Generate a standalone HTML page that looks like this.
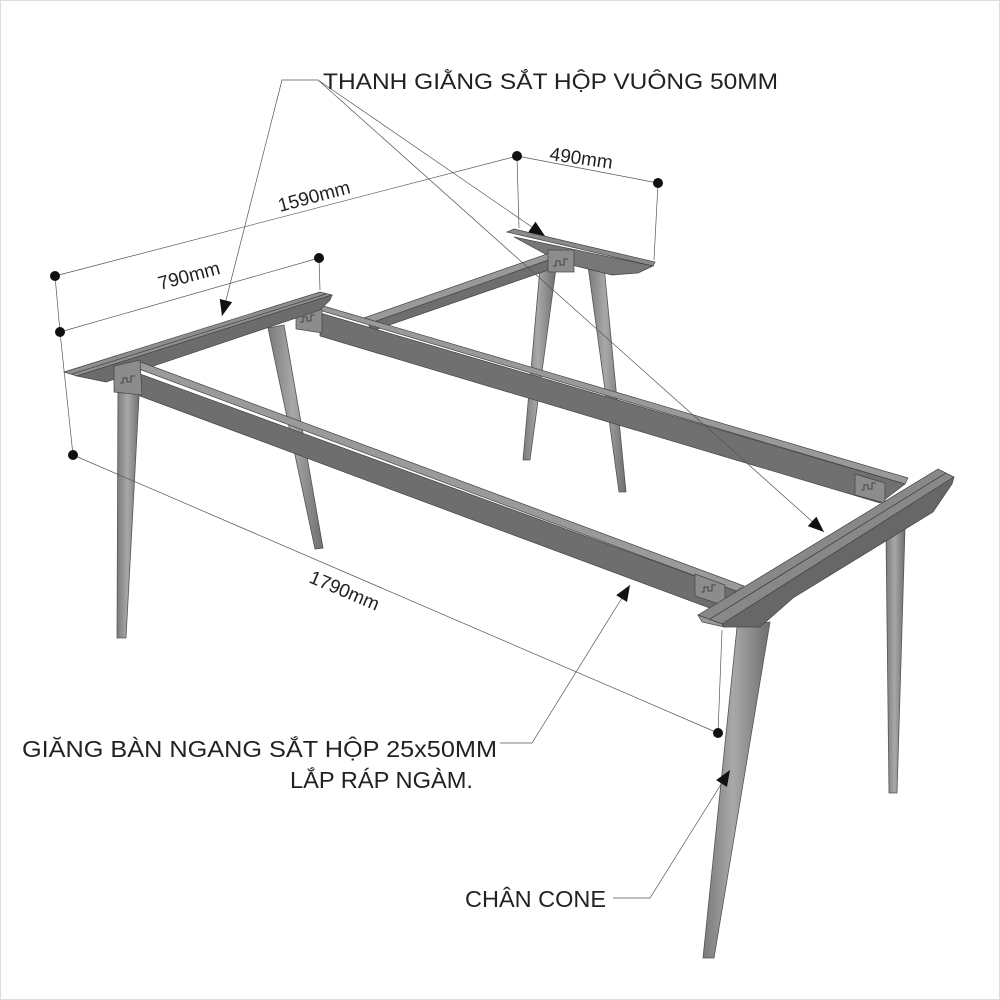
<!DOCTYPE html>
<html><head><meta charset="utf-8"><style>
html,body{margin:0;padding:0;background:#fff}
svg{display:block}
text{font-family:"Liberation Sans","DejaVu Sans",sans-serif;fill:#222}
</style></head><body>
<svg width="1000" height="1000" viewBox="0 0 1000 1000" xmlns="http://www.w3.org/2000/svg">
<rect x="0.5" y="0.5" width="999" height="999" fill="#fff" stroke="#ddd"/>
<defs>
<linearGradient id="leg" x1="0" x2="1" y1="0" y2="0">
<stop offset="0" stop-color="#7a7a7a"/><stop offset="0.45" stop-color="#a8a8a8"/><stop offset="1" stop-color="#6e6e6e"/>
</linearGradient>
<marker id="ar" viewBox="0 0 10 10" refX="10" refY="5" markerWidth="16" markerHeight="16" markerUnits="userSpaceOnUse" orient="auto"><path d="M0,1 L10,5 L0,9z" fill="#111"/></marker>
</defs>

<!-- back legs -->
<polygon points="540,268 556,268 530,460 523,460" fill="url(#leg)" stroke="#555" stroke-width="0.8"/>
<polygon points="588,266 604,266 626,492 619,492" fill="url(#leg)" stroke="#555" stroke-width="0.8"/>
<!-- left rear leg -->
<polygon points="268,328 284,325 323,548 315,549" fill="url(#leg)" stroke="#555" stroke-width="0.8"/>
<!-- right rear leg -->
<polygon points="886,535 905,528 897,793 889,793" fill="url(#leg)" stroke="#555" stroke-width="0.8"/>

<!-- back crossbar -->
<polygon points="507,232 514,229 655,262 653,266" fill="#8a8a8a" stroke="#444" stroke-width="0.7"/>
<polygon points="514,237 653,266 638,273 612,275 560,262" fill="#777" stroke="#444" stroke-width="0.7"/>
<!-- back L beam -->
<polygon points="358,320 550,253 560,256 368,324" fill="#999" stroke="#444" stroke-width="0.7"/>
<polygon points="368,324 560,256 560,266 372,331" fill="#6e6e6e" stroke="#444" stroke-width="0.7"/>
<rect x="548" y="250" width="26" height="22" fill="#8c8c8c" stroke="#444" stroke-width="0.7"/>
<path d="M553,266 l3,0 0,-5 4,0 0,4 4,0 0,-6 4,0" fill="none" stroke="#333" stroke-width="0.8"/>

<!-- back long beam -->
<polygon points="312,308 320,305 908,478 905,484" fill="#999" stroke="#444" stroke-width="0.7"/>
<polygon points="320,313 905,484 880,503 320,336" fill="#707070" stroke="#444" stroke-width="0.7"/>
<polygon points="296,305 322,309 322,333 296,329" fill="#8c8c8c" stroke="#444" stroke-width="0.7"/>
<path d="M300,322 l3,0 0,-5 4,0 0,4 4,0 0,-6 4,0" fill="none" stroke="#333" stroke-width="0.8"/>
<polygon points="855,474 885,483 885,503 855,495" fill="#8c8c8c" stroke="#444" stroke-width="0.7"/>
<path d="M861,490 l3,0 0,-5 4,0 0,4 4,0 0,-6 4,0" fill="none" stroke="#333" stroke-width="0.8"/>

<!-- left crossbar -->
<polygon points="64,372 320,292 332,295 77,376" fill="#8e8e8e" stroke="#444" stroke-width="0.7"/>
<polygon points="77,376 332,295 330,300 320,310 106,382" fill="#6c6c6c" stroke="#444" stroke-width="0.7"/>
<line x1="72" y1="374" x2="326" y2="294" stroke="#444" stroke-width="0.7"/>

<!-- front left leg -->
<polygon points="118,382 140,378 126,638 117,638" fill="url(#leg)" stroke="#555" stroke-width="0.8"/>

<!-- front long beam -->
<polygon points="128,365 138,361 744,586 736,591" fill="#9a9a9a" stroke="#444" stroke-width="0.7"/>
<polygon points="140,374 736,591 715,610 140,396" fill="#6e6e6e" stroke="#444" stroke-width="0.7"/>
<polygon points="114,366 140,360 142,395 114,392" fill="#8c8c8c" stroke="#444" stroke-width="0.7"/>
<path d="M120,383 l3,0 0,-5 4,0 0,4 4,0 0,-6 4,0" fill="none" stroke="#333" stroke-width="0.8"/>
<polygon points="695,574 725,585 725,606 695,596" fill="#8c8c8c" stroke="#444" stroke-width="0.7"/>
<path d="M701,592 l3,0 0,-5 4,0 0,4 4,0 0,-6 4,0" fill="none" stroke="#333" stroke-width="0.8"/>

<!-- right front leg -->
<polygon points="737,627 770,622 714,958 703,958" fill="url(#leg)" stroke="#555" stroke-width="0.8"/>

<!-- right crossbar -->
<polygon points="698,615 938,469 954,477 722,624" fill="#888" stroke="#444" stroke-width="0.7"/>
<polygon points="722,624 954,477 952,484 933,512 793,598 760,627 724,627" fill="#676767" stroke="#444" stroke-width="0.7"/>
<polygon points="698,615 722,624 724,627 702,622" fill="#999" stroke="#444" stroke-width="0.7"/>
<line x1="710" y1="619" x2="946" y2="473" stroke="#333" stroke-width="0.7"/>

<!-- dimension lines -->
<g stroke="#555" stroke-width="0.7" fill="none">
<line x1="55" y1="276" x2="517" y2="156"/>
<line x1="517" y1="156" x2="658" y2="183"/>
<line x1="517" y1="156" x2="519" y2="228"/>
<line x1="658" y1="183" x2="654" y2="260"/>
<line x1="60" y1="332" x2="319" y2="258"/>
<line x1="319" y1="258" x2="320" y2="290"/>
<line x1="55" y1="276" x2="60" y2="332"/>
<line x1="60" y1="332" x2="73" y2="455"/>
<line x1="73" y1="455" x2="718" y2="733"/>
<line x1="718" y1="733" x2="722" y2="630"/>
</g>
<g fill="#111">
<circle cx="55" cy="276" r="5"/><circle cx="517" cy="156" r="5"/><circle cx="658" cy="183" r="5"/>
<circle cx="60" cy="332" r="5"/><circle cx="319" cy="258" r="5"/><circle cx="73" cy="455" r="5"/><circle cx="718" cy="733" r="5"/>
</g>

<!-- leader lines -->
<g stroke="#555" stroke-width="0.7" fill="none">
<polyline points="318,80 282,80 222,316" marker-end="url(#ar)"/>
<line x1="318" y1="80" x2="545" y2="236" marker-end="url(#ar)"/>
<line x1="318" y1="80" x2="824" y2="532" marker-end="url(#ar)"/>
<polyline points="500,743 532,743 630,585" marker-end="url(#ar)"/>
<polyline points="613,898 650,898 730,770" marker-end="url(#ar)"/>
</g>

<!-- text -->
<text x="323" y="89" font-size="22" textLength="455" lengthAdjust="spacingAndGlyphs">THANH GIẰNG SẮT HỘP VUÔNG 50MM</text>
<text x="549" y="160" font-size="19" transform="rotate(8 549 160)">490mm</text>
<text x="280" y="212" font-size="19" transform="rotate(-15 280 212)">1590mm</text>
<text x="160" y="290" font-size="19" transform="rotate(-15 160 290)">790mm</text>
<text x="308" y="582" font-size="19" transform="rotate(23 308 582)">1790mm</text>
<text x="22" y="757" font-size="23" textLength="475" lengthAdjust="spacingAndGlyphs">GIĂNG BÀN NGANG SẮT HỘP 25x50MM</text>
<text x="290" y="788" font-size="23" textLength="183" lengthAdjust="spacingAndGlyphs">LẮP RÁP NGÀM.</text>
<text x="465" y="907" font-size="23" textLength="141" lengthAdjust="spacingAndGlyphs">CHÂN CONE</text>
</svg>
</body></html>
